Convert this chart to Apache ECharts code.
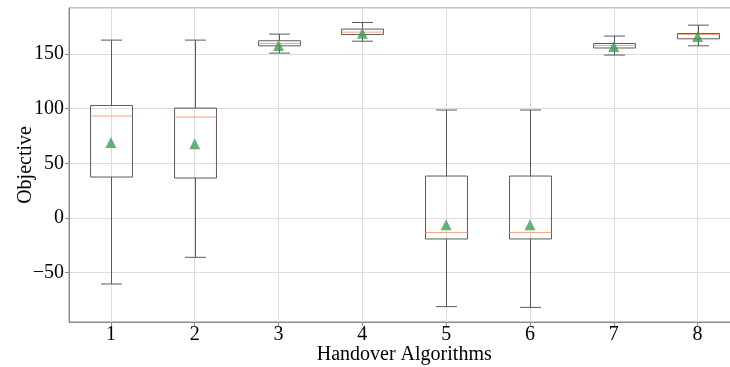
<!DOCTYPE html>
<html>
<head>
<meta charset="utf-8">
<script src="https://cdn.jsdelivr.net/npm/echarts@6/dist/echarts.min.js"></script>
<style>
html,body{margin:0;padding:0;background:#fff;}
#chart{width:730px;height:367px;}
</style>
</head>
<body>
<div id="chart"></div>
<script>
const categories = ['1', '2', '3', '4', '5', '6', '7', '8'];
const whiskerLow  = [-60.4, -36.0, 150.9, 161.8, -81.1, -81.8, 149.1, 157.6];
const q1Values    = [37.5, 36.6, 157.6, 167.9, -19.2, -19.2, 155.6, 164.0];
const medians     = [93.3, 92.4, 159.7, 170.1, -13.2, -13.2, 157.9, 167.9];
const q3Values    = [103.0, 100.6, 162.2, 172.9, 38.4, 38.4, 159.7, 168.8];
const whiskerHigh = [162.8, 162.8, 168.3, 178.9, 98.8, 98.8, 166.5, 176.5];
const means       = [69.2, 68.0, 157.9, 169.2, -6.1, -6.1, 157.0, 166.1];
const yMin = -95.2, yMax = 192.2;

const boxData = categories.map((c, i) => [i, whiskerLow[i], q1Values[i], medians[i], q3Values[i], whiskerHigh[i]]);

const boxColor = '#5a5a5a';
const medColor = '#f7a27a';

function renderBox(params, api) {
  const x = api.value(0);
  const lo = api.coord([x, api.value(1)]);
  const q1 = api.coord([x, api.value(2)]);
  const md = api.coord([x, api.value(3)]);
  const q3 = api.coord([x, api.value(4)]);
  const hi = api.coord([x, api.value(5)]);
  const bw = api.size([1, 0])[0];
  const half = bw * 0.25;
  const cap = bw * 0.125;
  const cx = Math.round(lo[0]) + 0.5;
  const st = {stroke: boxColor, lineWidth: 1, fill: null};
  return {
    type: 'group',
    children: [
      {type: 'line', shape: {x1: cx, y1: q3[1], x2: cx, y2: hi[1]}, style: st},
      {type: 'line', shape: {x1: cx, y1: q1[1], x2: cx, y2: lo[1]}, style: st},
      {type: 'line', shape: {x1: cx - cap, y1: hi[1], x2: cx + cap, y2: hi[1]}, style: st},
      {type: 'line', shape: {x1: cx - cap, y1: lo[1], x2: cx + cap, y2: lo[1]}, style: st},
      {type: 'rect', shape: {x: cx - half, y: q3[1], width: half * 2, height: q1[1] - q3[1]}, style: {stroke: boxColor, lineWidth: 1, fill: 'none'}},
      {type: 'line', shape: {x1: cx - half, y1: md[1], x2: cx + half, y2: md[1]}, style: {stroke: medColor, lineWidth: 1}}
    ]
  };
}

const font = 'Liberation Serif';
const chart = echarts.init(document.getElementById('chart'), null, {renderer: 'canvas'});
chart.setOption({
  animation: false,
  grid: {
    left: 69, top: 8, width: 670.5, height: 314,
    containLabel: false,
    outerBoundsMode: 'none',
    show: true, borderColor: '#8c8c8c', borderWidth: 1, backgroundColor: 'transparent'
  },
  xAxis: {
    type: 'category',
    data: categories,
    name: 'Handover Algorithms',
    nameLocation: 'middle',
    nameGap: 23,
    nameMoveOverlap: false,
    nameTextStyle: {fontFamily: font, fontSize: 20, color: '#000'},
    axisLine: {show: true, onZero: false, lineStyle: {color: '#8c8c8c'}},
    axisTick: {show: true, alignWithLabel: true, length: 4, lineStyle: {color: '#8c8c8c'}},
    axisLabel: {fontFamily: font, fontSize: 20, color: '#000', margin: 3},
    splitLine: {show: true, alignWithLabel: true, lineStyle: {color: '#dcdcdc', width: 1}}
  },
  yAxis: {
    type: 'value',
    min: yMin,
    max: yMax,
    splitNumber: 6,
    name: 'Objective',
    nameLocation: 'middle',
    nameGap: 33,
    nameMoveOverlap: false,
    nameTextStyle: {fontFamily: font, fontSize: 20, color: '#000'},
    axisLine: {show: true, lineStyle: {color: '#8c8c8c'}},
    axisTick: {show: true, length: 4, lineStyle: {color: '#8c8c8c'}},
    axisLabel: {fontFamily: font, fontSize: 20, color: '#000', margin: 5, showMinLabel: false, showMaxLabel: false,
      formatter: v => (v < 0 ? '\u2212' + Math.abs(v) : String(v))},
    splitLine: {show: true, lineStyle: {color: '#dcdcdc', width: 1}}
  },
  series: [
    {
      type: 'custom',
      renderItem: renderBox,
      data: boxData,
      encode: {x: 0, y: [1, 2, 3, 4, 5]},
      z: 3
    },
    {
      type: 'scatter',
      data: means,
      symbol: 'triangle',
      symbolSize: 11,
      itemStyle: {color: '#3f9e55'},
      z: 4
    }
  ]
});
</script>
</body>
</html>
